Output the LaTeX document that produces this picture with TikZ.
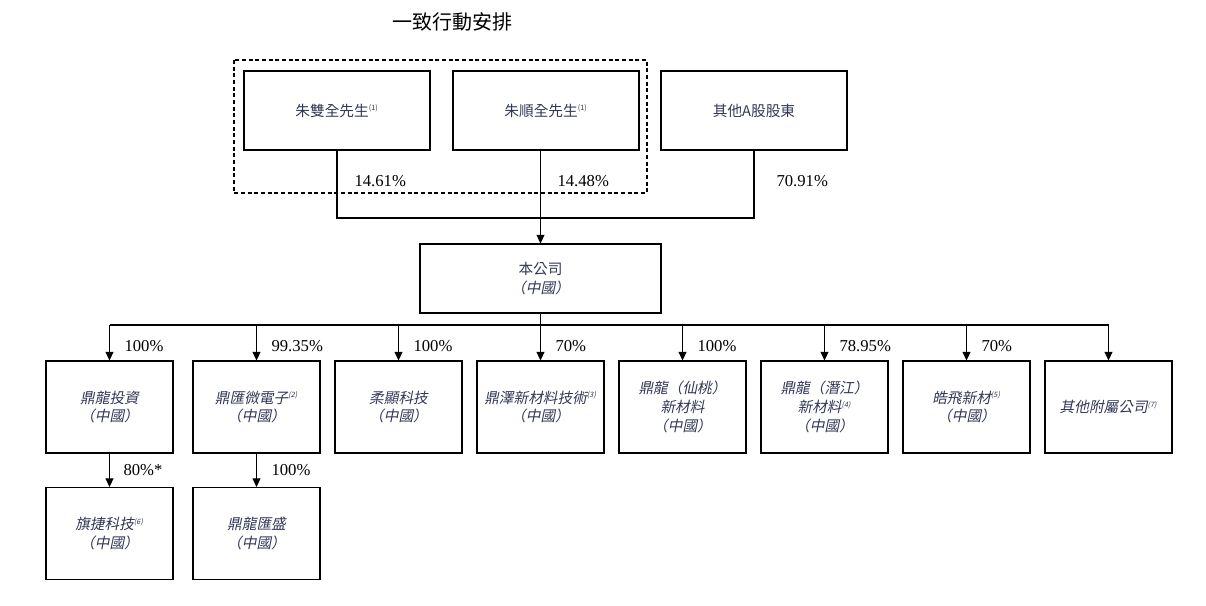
\documentclass[tikz,border=0pt]{standalone}
\usepackage{fontspec}
\setmainfont{Liberation Serif}
\newfontfamily\cjk{Noto Sans CJK TC}
\newfontfamily\cjkit[FakeSlant=0.2]{Noto Sans CJK TC}
\usetikzlibrary{arrows.meta}
\definecolor{boxtext}{RGB}{50,55,85}
\newcommand\fn[1]{\textsuperscript{\fontsize{5.5}{6}\selectfont(#1)}}
\newcommand\fnit[1]{\textsuperscript{\fontsize{5.5}{6}\selectfont\itshape(#1)}}

\begin{document}
\begin{tikzpicture}[x=0.75pt, y=-0.75pt,
    line width=0.8pt,
    holder/.style={draw, minimum width=186*0.75pt, minimum height=79*0.75pt,
        inner sep=0pt, text=boxtext, font=\cjk\fontsize{11}{14}\selectfont},
    parentbox/.style={draw, minimum width=241*0.75pt, minimum height=69*0.75pt,
        inner sep=0pt, align=center, text=boxtext, font=\cjk\fontsize{11}{14}\selectfont},
    subbox/.style={draw, minimum width=127*0.75pt, minimum height=92*0.75pt,
        inner sep=0pt, align=center, text=boxtext, font=\cjkit\fontsize{11}{14}\selectfont},
    pct/.style={anchor=west, inner sep=0pt, font=\fontsize{12.5}{14}\selectfont},
    arr/.style={-{Triangle[length=6.5pt, width=6pt]}}]
    \useasboundingbox (0,0) rectangle (1206,606);

    % acting in concert
    \node[font=\cjk\fontsize{15}{18}\selectfont] (title) at (452,22) {一致行動安排};
    \draw[dashed, dash pattern=on 3pt off 2pt] (234,60) rectangle (647,193);

    % shareholders
    \node[holder] (zhua) at (337,110.5) {朱雙全先生\fn{1}};
    \node[holder] (zhub) at (546,110.5) {朱順全先生\fn{1}};
    \node[holder] (others) at (754,110.5) {其他A股股東};

    \node[parentbox] (company) at (540.5,278.5) {本公司\\{\cjkit（中國）}};

    \coordinate (join) at (540.5,218);
    \draw (zhua.south) |- (others.south |- join) -- (others.south);
    \draw[arr] (company.north |- zhub.south) -- (company.north);

    \node[pct] (pa) at (354,181) {14.61\%};
    \node[pct] (pb) at (557,181) {14.48\%};
    \node[pct] (pc) at (776,181) {70.91\%};

    % subsidiaries
    \node[subbox] (dlinv) at (109.5,407) {鼎龍投資\\（中國）};
    \node[subbox] (dhwe) at (256.5,407) {鼎匯微電子\fnit{2}\\（中國）};
    \node[subbox] (rxkj) at (398.5,407) {柔顯科技\\（中國）};
    \node[subbox] (dzxc) at (540.5,407) {鼎澤新材料技術\fnit{3}\\（中國）};
    \node[subbox] (dlxt) at (682.5,407) {鼎龍（仙桃）\\新材料\\（中國）};
    \node[subbox] (dlqj) at (824.5,407) {鼎龍（潛江）\\新材料\fnit{4}\\（中國）};
    \node[subbox] (hfxc) at (966.5,407) {皓飛新材\fnit{5}\\（中國）};
    \node[subbox] (qtfs) at (1108.5,407) {其他附屬公司\fnit{7}};

    \node[subbox] (qjkj) at (109.5,533.5) {旗捷科技\fnit{6}\\（中國）};
    \node[subbox] (dlhs) at (256.5,533.5) {鼎龍匯盛\\（中國）};

    \coordinate (bus) at (540.5,325);
    \draw (company.south) -- (bus);
    \draw (dlinv.north |- bus) -- (qtfs.north |- bus);
    \draw[arr] (dlinv.north |- bus) -- (dlinv.north);
    \draw[arr] (dhwe.north |- bus) -- (dhwe.north);
    \draw[arr] (rxkj.north |- bus) -- (rxkj.north);
    \draw[arr] (dzxc.north |- bus) -- (dzxc.north);
    \draw[arr] (dlxt.north |- bus) -- (dlxt.north);
    \draw[arr] (dlqj.north |- bus) -- (dlqj.north);
    \draw[arr] (hfxc.north |- bus) -- (hfxc.north);
    \draw[arr] (qtfs.north |- bus) -- (qtfs.north);
    \draw[arr] (dlinv.south) -- (qjkj.north);
    \draw[arr] (dhwe.south) -- (dlhs.north);

    \node[pct] (p1) at (124,346) {100\%};
    \node[pct] (p2) at (271,346) {99.35\%};
    \node[pct] (p3) at (413,346) {100\%};
    \node[pct] (p4) at (555,346) {70\%};
    \node[pct] (p5) at (697,346) {100\%};
    \node[pct] (p6) at (839,346) {78.95\%};
    \node[pct] (p7) at (981,346) {70\%};
    \node[pct] (p8) at (123,470) {80\%*};
    \node[pct] (p9) at (271,470) {100\%};
\end{tikzpicture}
\end{document}
